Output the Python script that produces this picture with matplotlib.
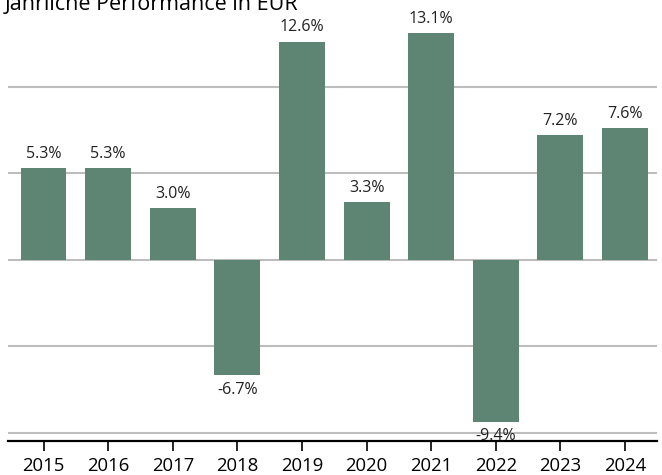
import matplotlib
matplotlib.use("Agg")
import matplotlib.pyplot as plt

years = ["2015", "2016", "2017", "2018", "2019", "2020", "2021", "2022", "2023", "2024"]
values = [5.3, 5.3, 3.0, -6.7, 12.6, 3.3, 13.1, -9.4, 7.2, 7.6]
grid_levels = [-10, -5, 0, 5, 10]
title = "Jährliche Performance in EUR"

plt.rcParams['font.family'] = ['Open Sans', 'DejaVu Sans']

W, H = 662, 475
fig = plt.figure(figsize=(W / 100, H / 100), dpi=100)
ax = fig.add_axes([8 / W, (H - 440.7) / H, (657 - 8) / W, 440.7 / H])

color = "#5e8573"
x = list(range(len(years)))
ax.bar(x, values, width=0.71, color=color, zorder=3)

for lv in grid_levels:
    ax.axhline(lv, color="#bdbdbd", lw=1.5, zorder=1)

for xi, v in zip(x, values):
    if v >= 0:
        ax.text(xi, v + 0.35, f"{v:.1f}%", ha="center", va="bottom", fontsize=11.5, color="#222222", zorder=4)
    else:
        ax.text(xi, v - 0.35, f"{v:.1f}%", ha="center", va="top", fontsize=11.5, color="#222222", zorder=4)

ax.set_xlim(-0.55, len(years) - 0.505)
ax.set_ylim(-10.47, 15.0)
ax.set_xticks(x)
ax.set_xticklabels(years, fontsize=13.3)
ax.set_yticks([])
for s in ["left", "right", "top"]:
    ax.spines[s].set_visible(False)
ax.spines["bottom"].set_linewidth(1.6)
ax.spines["bottom"].set_color("black")
ax.tick_params(axis="x", direction="out", length=7, width=1.2, color="black", pad=5)

fig.text(5 / W, 1 - 10 / H, title, ha="left", va="baseline", fontsize=15.5, color="black")

fig.savefig("out.png", dpi=100)
